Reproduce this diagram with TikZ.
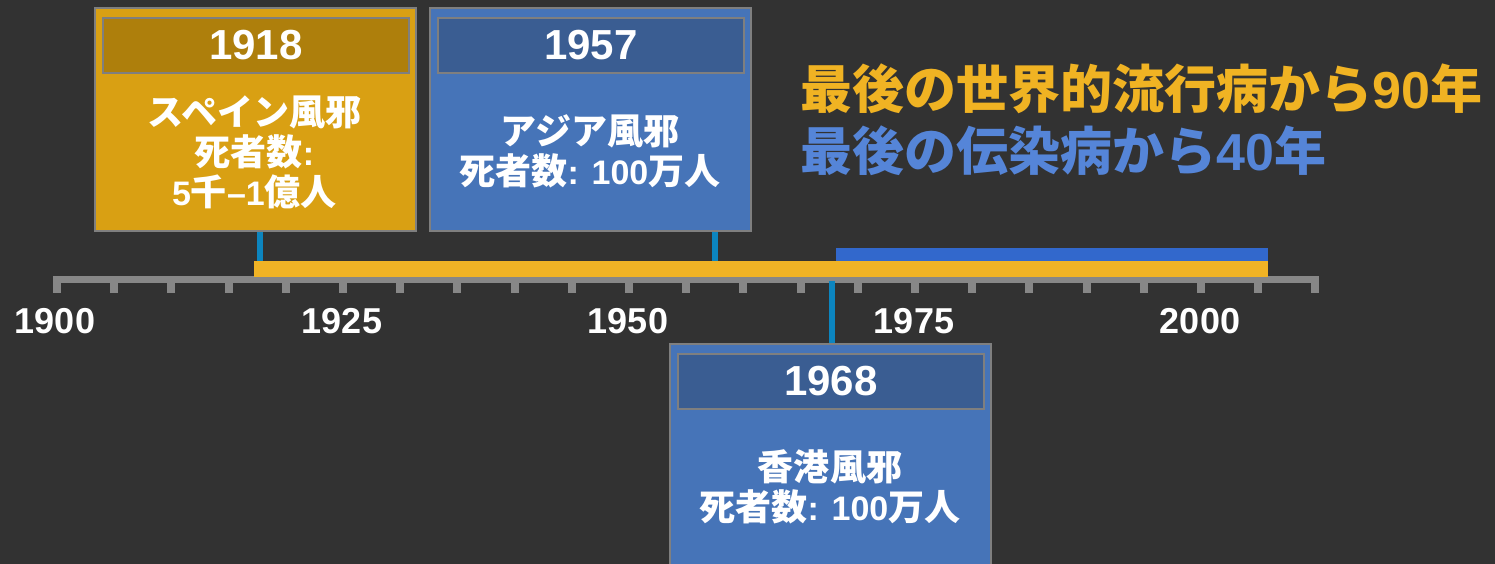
\documentclass[tikz,border=0pt]{standalone}
\usepackage{fontspec}
\setmainfont{Liberation Sans}
\newfontfamily\cjk{Noto Sans CJK JP}
\newfontfamily\cjkb[Scale=1.06]{Noto Sans CJK JP}
\definecolor{bg}{HTML}{323232}
\definecolor{gold}{HTML}{D9A013}
\definecolor{golddark}{HTML}{AE7F0C}
\definecolor{boxblue}{HTML}{4674B8}
\definecolor{boxbluedark}{HTML}{3A5D92}
\definecolor{boxgray}{HTML}{7F7F7F}
\definecolor{axisgray}{HTML}{878787}
\definecolor{baryellow}{HTML}{F0B325}
\definecolor{barblue}{HTML}{3268CC}
\definecolor{connblue}{HTML}{0C85BF}
\definecolor{titleorange}{HTML}{F0B323}
\definecolor{titleblue}{HTML}{5585D8}
\tikzset{
  outerbox/.style={draw=boxgray, line width=2pt, inner sep=0pt, anchor=north west, minimum width=321pt},
  hdrbox/.style={draw=boxgray, line width=2pt, inner sep=0pt, anchor=north west, minimum width=306pt, minimum height=55pt, text=white, font=\fontsize{42}{48}\selectfont\bfseries},
  bodytxt/.style={text=white, align=center, inner sep=0pt, font=\fontsize{34}{40}\selectfont\bfseries},
  yearlbl/.style={text=white, inner sep=0pt, font=\fontsize{36}{40}\selectfont\bfseries},
  conn/.style={draw=connblue, line width=6pt},
  titletxt/.style={inner sep=0pt, anchor=base west, font=\fontsize{52}{60}\selectfont\bfseries}
}
\begin{document}
\begin{tikzpicture}[x=1pt,y=-1pt]
\fill[bg] (0,0) rectangle (1495,564);
\useasboundingbox (0,0) rectangle (1495,564);
\clip (0,0) rectangle (1495,564);
% axis
\fill[axisgray] (53,276) rectangle (1319,283);
\foreach \i in {0,...,22} {
  \fill[axisgray] ({53+57.2*\i},283) rectangle ({61+57.2*\i},293);
}
% bars
\fill[baryellow] (254,261) rectangle (1268,277);
\fill[barblue] (836,248) rectangle (1268,261);
% year labels
\node[yearlbl] (y1900) at (55,321) {1900};
\node[yearlbl] (y1925) at (342,321) {1925};
\node[yearlbl] (y1950) at (628,321) {1950};
\node[yearlbl] (y1975) at (914,321) {1975};
\node[yearlbl] (y2000) at (1200,321) {2000};
% connector anchors
\coordinate (c1918) at (259.5,261);
\coordinate (c1957) at (715,261);
\coordinate (c1968) at (831.5,281);
% 1918 box
\node[outerbox, fill=gold, minimum height=223pt] (b1918) at (94,7) {};
\node[hdrbox, fill=golddark] (h1918) at (102,17) {1918};
\node[bodytxt] (t1918) at (254.5,152) {{\cjkb スペイン風邪}\\{\cjkb 死者数}:\\5{\cjkb 千}–1{\cjkb 億人}};
% 1957 box
\node[outerbox, fill=boxblue, minimum height=223pt] (b1957) at (429,7) {};
\node[hdrbox, fill=boxbluedark] (h1957) at (437,17) {1957};
\node[bodytxt] (t1957) at (590,151) {{\cjkb アジア風邪}\\{\cjkb 死者数}: 100{\cjkb 万人}};
% 1968 box
\node[outerbox, fill=boxblue, minimum height=240pt] (b1968) at (669,343) {};
\node[hdrbox, fill=boxbluedark] (h1968) at (677,353) {1968};
\node[bodytxt] (t1968) at (830,487) {{\cjkb 香港風邪}\\{\cjkb 死者数}: 100{\cjkb 万人}};
% connectors
\draw[conn] (c1918 |- b1918.south) -- (c1918);
\draw[conn] (c1957 |- b1957.south) -- (c1957);
\draw[conn] (c1968) -- (c1968 |- b1968.north);
% titles
\node[titletxt, text=titleorange] (title1) at (800,109) {{\cjk 最後の世界的流行病から}90{\cjk 年}};
\node[titletxt, text=titleblue] (title2) at (800,171) {{\cjk 最後の伝染病から}40{\cjk 年}};
\end{tikzpicture}
\end{document}
